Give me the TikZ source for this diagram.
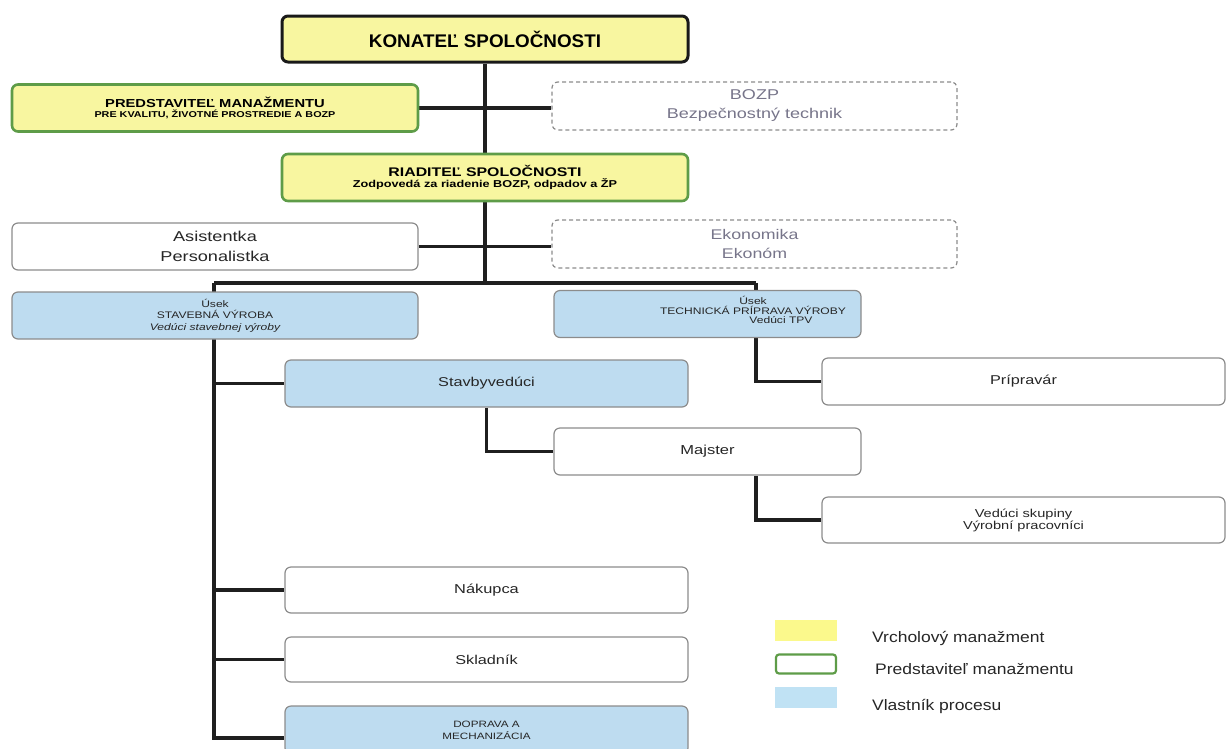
\documentclass[tikz,border=0pt]{standalone}
\usepackage{fontspec}
\setmainfont{Liberation Sans}[FakeStretch=1.27]
\newfontfamily\legf{Liberation Sans}[FakeStretch=1.15]
\newfontfamily\plainf{Liberation Sans}[FakeStretch=1.03]
\usetikzlibrary{backgrounds}
\definecolor{yfill}{HTML}{F8F6A0}
\definecolor{bfill}{HTML}{BEDCF0}
\definecolor{gborder}{HTML}{5E9C48}
\definecolor{txtgray}{HTML}{77758A}
\definecolor{lyel}{HTML}{FBF98C}
\definecolor{lblu}{HTML}{C0E2F4}
\tikzset{
  bx/.style={draw=black!45, line width=1.2pt, rounded corners=6pt, fill=white, align=center, inner sep=0pt, text=black!85},
  yel/.style={bx, fill=yfill, draw=gborder, line width=2.6pt, text=black},
  dbx/.style={bx, dashed, draw=black!45, dash pattern=on 4pt off 3pt, text=txtgray},
  blu/.style={bx, fill=bfill},
  conn/.style={line width=3.8pt, black!88},
  wide/.style={minimum width=406pt},
  mid/.style={minimum width=307pt},
  leg/.style={anchor=west, font=\legf\fontsize{15.2}{17}\selectfont, text=black!85, inner sep=0pt},
}
\begin{document}
\begin{tikzpicture}[x=1pt,y=-1pt]
\clip (0,0) rectangle (1227,748);
% nodes
\node[yel, draw=black!90, line width=3pt, wide, minimum height=46pt, font=\plainf\bfseries\fontsize{18.3}{20}\selectfont] (kon) at (485,39) {KONATEĽ SPOLOČNOSTI};
\node[yel, wide, minimum height=47pt, font=\fontsize{10}{10.5}\selectfont] (pred) at (215,108) {{\bfseries\fontsize{11.6}{12}\selectfont PREDSTAVITEĽ MANAŽMENTU}\\{\bfseries\fontsize{8.5}{9}\selectfont PRE KVALITU, ŽIVOTNÉ PROSTREDIE A BOZP}};
\node[dbx, minimum width=405pt, minimum height=48pt, font=\fontsize{14.2}{19}\selectfont] (bozp) at (754.5,106) {BOZP\\Bezpečnostný technik};
\node[yel, wide, minimum height=47pt, font=\fontsize{10}{11.5}\selectfont] (riad) at (485,177.5) {{\bfseries\fontsize{12.5}{13}\selectfont RIADITEĽ SPOLOČNOSTI}\\{\bfseries\fontsize{10}{11}\selectfont Zodpovedá za riadenie BOZP, odpadov a ŽP}};
\node[bx, wide, minimum height=47pt, font=\fontsize{14.3}{19.5}\selectfont] (asis) at (215,246.5) {Asistentka\\Personalistka};
\node[dbx, minimum width=405pt, minimum height=48pt, font=\fontsize{14}{19.5}\selectfont] (ekon) at (754.5,244) {Ekonomika\\Ekonóm};
\node[blu, wide, minimum height=47pt, font=\fontsize{9.5}{11.5}\selectfont] (stav) at (215,315.5) {Úsek\\STAVEBNÁ VÝROBA\\\itshape Vedúci stavebnej výroby};
\node[blu, mid, minimum height=47pt] (tech) at (707.5,314) {};
\node[inner sep=0pt, align=center, text=black!85, font=\fontsize{9.5}{9.8}\selectfont] (techt) at (753,310) {Úsek\\TECHNICKÁ PRÍPRAVA VÝROBY\\\hspace*{56pt}Vedúci TPV};
\node[blu, minimum width=403pt, minimum height=47pt, font=\fontsize{12.8}{16}\selectfont] (stbv) at (486.5,383.5) {Stavbyvedúci};
\node[bx, minimum width=403pt, minimum height=47pt, font=\fontsize{12.8}{16}\selectfont] (prip) at (1023.5,381.5) {Prípravár};
\node[bx, mid, minimum height=47pt, font=\fontsize{13}{16}\selectfont] (majs) at (707.5,451.5) {Majster};
\node[bx, minimum width=403pt, minimum height=46pt, font=\fontsize{11.5}{12}\selectfont] (vedu) at (1023.5,520) {Vedúci skupiny\\Výrobní pracovníci};
\node[bx, minimum width=403pt, minimum height=46pt, font=\fontsize{12.9}{16}\selectfont] (naku) at (486.5,590) {Nákupca};
\node[bx, minimum width=403pt, minimum height=45pt, font=\fontsize{12.8}{16}\selectfont] (skla) at (486.5,659.5) {Skladník};
\node[blu, minimum width=403pt, minimum height=48pt, font=\fontsize{9.2}{12}\selectfont] (dopr) at (486.5,730) {DOPRAVA A\\MECHANIZÁCIA};
% legend
\node[fill=lyel, minimum width=62pt, minimum height=21pt, inner sep=0pt] (l1) at (806,630.5) {};
\node[draw=gborder, line width=2.2pt, rounded corners=3pt, fill=white, minimum width=60pt, minimum height=19pt, inner sep=0pt] (l2) at (806,664) {};
\node[fill=lblu, minimum width=62pt, minimum height=21pt, inner sep=0pt] (l3) at (806,697) {};
\node[leg] (t1) at (872,638) {Vrcholový manažment};
\node[leg] (t2) at (875,669) {Predstaviteľ manažmentu};
\node[leg] (t3) at (872,706) {Vlastník procesu};
% connectors
\begin{pgfonlayer}{background}
\coordinate (jc) at (485,283);
\coordinate (jl) at (214,283);
\coordinate (jr) at (756,283);
\draw[conn] (kon.south) -- (jc);
\draw[conn] (pred.east) -- (pred.east -| bozp.west);
\draw[conn] (asis.east) -- (asis.east -| ekon.west);
\draw[conn] (jl) -- (jr);
\draw[conn] (jr) -- (tech.north -| jr);
\draw[conn] (tech.south -| jr) |- (prip.west);
\draw[conn] (jl) |- ([yshift=-8pt]dopr.west);
\draw[conn] (jl) |- (stbv.west);
\draw[conn] (jl) |- (naku.west);
\draw[conn] (jl) |- (skla.west);
\draw[conn] (stbv.south) |- (majs.west);
\draw[conn] (majs.south -| jr) |- (vedu.west);
\end{pgfonlayer}
\end{tikzpicture}
\end{document}
